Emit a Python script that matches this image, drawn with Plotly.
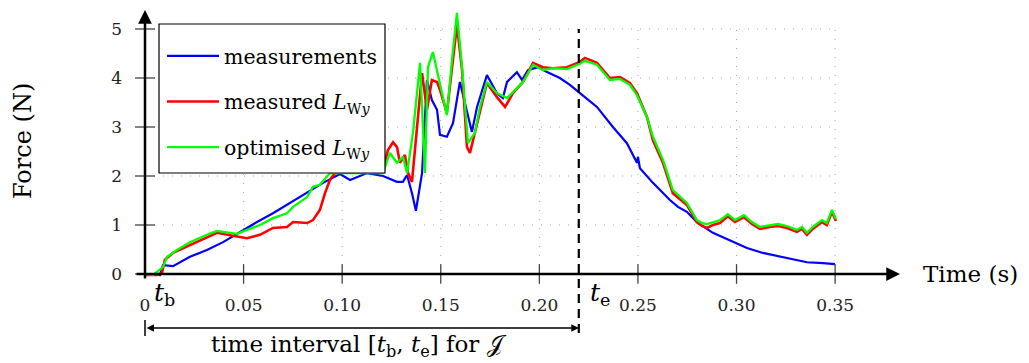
import plotly.graph_objects as go

# ---------------- data ----------------
meas_t = [0, 0.0076, 0.0091, 0.0142, 0.0228, 0.0314, 0.0396, 0.0482, 0.0568, 0.0649, 0.0735,
          0.0822, 0.0903, 0.0989, 0.1040, 0.1126, 0.1207, 0.1278, 0.1308, 0.1329, 0.1354,
          0.1374, 0.1405, 0.1430, 0.1455, 0.1481, 0.1496, 0.1531, 0.1562, 0.1597, 0.1633,
          0.1658, 0.1684, 0.1734, 0.1785, 0.1815, 0.1836, 0.1886, 0.1912, 0.1942, 0.1993,
          0.2039, 0.2104, 0.2155, 0.2206, 0.2292, 0.2373, 0.2444, 0.2495, 0.2500, 0.2510,
          0.2576, 0.2662, 0.2703, 0.2748, 0.2799, 0.2880, 0.2992, 0.3053, 0.3134, 0.3256,
          0.3357, 0.3438, 0.3499]
meas_f = [0, -0.02, 0.18, 0.16, 0.35, 0.49, 0.65, 0.86, 1.06, 1.24, 1.45,
          1.67, 1.86, 2.04, 1.92, 2.06, 2.00, 1.88, 1.88, 2.02, 1.65,
          1.29, 2.06, 3.96, 3.55, 3.35, 2.84, 2.80, 3.08, 3.92, 3.35,
          2.90, 3.41, 4.06, 3.69, 3.59, 3.92, 4.12, 3.96, 4.16, 4.22,
          4.12, 4.00, 3.86, 3.69, 3.41, 3.00, 2.67, 2.27, 2.39, 2.16,
          1.86, 1.51, 1.37, 1.27, 1.06, 0.84, 0.65, 0.53, 0.43, 0.33,
          0.24, 0.22, 0.20]

mlw_t = [0, 0.0061, 0.0086, 0.0101, 0.0142, 0.0228, 0.0314, 0.0365, 0.0446, 0.0517, 0.0583,
         0.0649, 0.0720, 0.0751, 0.0822, 0.0852, 0.0887, 0.0913, 0.0938, 0.0974, 0.1126,
         0.1207, 0.1232, 0.1258, 0.1278, 0.1293, 0.1318, 0.1334, 0.1354, 0.1379, 0.1405,
         0.1430, 0.1455, 0.1481, 0.1496, 0.1531, 0.1557, 0.1582, 0.1608, 0.1633, 0.1648,
         0.1673, 0.1699, 0.1734, 0.1785, 0.1826, 0.1866, 0.1917, 0.1968, 0.2018, 0.2069,
         0.2140, 0.2206, 0.2231, 0.2292, 0.2358, 0.2409, 0.2459, 0.2495, 0.2546, 0.2576,
         0.2627, 0.2677, 0.2748, 0.2799, 0.2825, 0.2850, 0.2880, 0.2916, 0.2956, 0.2992,
         0.3038, 0.3078, 0.3119, 0.3169, 0.3210, 0.3256, 0.3306, 0.3332, 0.3357, 0.3387,
         0.3433, 0.3458, 0.3484, 0.3504]
mlw_f = [-0.02, -0.02, 0.02, 0.29, 0.43, 0.59, 0.76, 0.84, 0.78, 0.73, 0.80,
         0.94, 0.96, 1.06, 1.04, 1.10, 1.31, 1.65, 1.92, 2.12, 2.12,
         2.12, 2.53, 2.69, 2.59, 2.27, 2.43, 2.06, 1.88, 3.00, 4.10,
         3.35, 3.96, 3.92, 3.76, 3.29, 4.22, 5.08, 4.16, 2.59, 2.47,
         2.88, 3.35, 3.90, 3.61, 3.41, 3.69, 3.92, 4.31, 4.22, 4.20,
         4.22, 4.33, 4.41, 4.31, 4.00, 4.02, 3.90, 3.69, 3.20, 2.73,
         2.27, 1.65, 1.41, 1.06, 0.98, 0.94, 1.00, 1.04, 1.18, 1.06,
         1.16, 1.02, 0.92, 0.96, 0.98, 0.94, 0.86, 0.92, 0.80, 0.92,
         1.06, 1.00, 1.27, 1.08]

olw_t = [0, 0.0041, 0.0091, 0.0112, 0.0162, 0.0228, 0.0314, 0.0365, 0.0431, 0.0467, 0.0517,
         0.0583, 0.0649, 0.0720, 0.0751, 0.0822, 0.0852, 0.0887, 0.0938, 0.1207, 0.1242,
         0.1278, 0.1308, 0.1329, 0.1359, 0.1395, 0.1420, 0.1435, 0.1460, 0.1496, 0.1531,
         0.1557, 0.1582, 0.1608, 0.1638, 0.1673, 0.1699, 0.1734, 0.1785, 0.1836, 0.1866,
         0.1917, 0.1968, 0.2018, 0.2069, 0.2140, 0.2206, 0.2231, 0.2292, 0.2358, 0.2409,
         0.2459, 0.2495, 0.2546, 0.2576, 0.2627, 0.2677, 0.2748, 0.2799, 0.2825, 0.2850,
         0.2880, 0.2916, 0.2956, 0.2992, 0.3038, 0.3078, 0.3119, 0.3169, 0.3210, 0.3256,
         0.3306, 0.3332, 0.3357, 0.3387, 0.3433, 0.3458, 0.3484, 0.3504]
olw_f = [0, -0.02, 0.14, 0.35, 0.49, 0.65, 0.80, 0.88, 0.84, 0.82, 0.90,
         1.00, 1.14, 1.24, 1.37, 1.57, 1.78, 1.82, 2.06, 2.06, 2.47,
         2.27, 2.39, 2.06, 2.88, 4.31, 2.06, 4.22, 4.53, 3.90, 3.24,
         4.37, 5.33, 4.22, 2.67, 2.88, 3.41, 3.92, 3.69, 3.59, 3.71,
         3.92, 4.27, 4.16, 4.20, 4.18, 4.29, 4.35, 4.27, 3.96, 3.98,
         3.86, 3.65, 3.20, 2.80, 2.33, 1.71, 1.45, 1.10, 1.04, 1.02,
         1.06, 1.10, 1.22, 1.10, 1.20, 1.06, 0.96, 1.00, 1.02, 0.98,
         0.90, 0.96, 0.84, 0.96, 1.10, 1.04, 1.31, 1.12]

x_ticks = [0, 0.05, 0.10, 0.15, 0.20, 0.25, 0.30, 0.35]
x_tick_text = ["0", "0.05", "0.10", "0.15", "0.20", "0.25", "0.30", "0.35"]
y_ticks = [0, 1, 2, 3, 4, 5]
y_tick_text = ["0", "1", "2", "3", "4", "5"]
t_end = 0.22

# ---------------- style ----------------
FONT = "DejaVu Serif"
X_RANGE = [-0.00507, 0.3829]
Y_RANGE = [-0.2653, 5.3878]
# the page body adds an 8 px offset; window pixel positions below include it


def paper_y(py):
    return (287 - py) / 277.0


def paper_x(px):
    return (px - 135) / 765.0


fig = go.Figure()
fig.add_trace(go.Scatter(x=meas_t, y=meas_f, mode="lines", name="measurements",
                         line=dict(color="#0000ff", width=2.2), legendgroup="a"))
fig.add_trace(go.Scatter(x=mlw_t, y=mlw_f, mode="lines",
                         name="measured <i>L</i><sub>W<i>y</i></sub>",
                         line=dict(color="#ff0000", width=2.6), legendgroup="b"))
fig.add_trace(go.Scatter(x=olw_t, y=olw_f, mode="lines",
                         name="optimised <i>L</i><sub>W<i>y</i></sub>",
                         line=dict(color="#00ff00", width=2.3), legendgroup="c"))

shapes = []
# grid
for v in x_ticks[1:]:
    shapes.append(dict(type="line", xref="x", yref="y", x0=v, x1=v, y0=0, y1=y_ticks[-1],
                       line=dict(color="#a8a8a8", width=1, dash="1px,8px"), layer="below"))
for v in y_ticks[1:]:
    shapes.append(dict(type="line", xref="x", yref="y", x0=0, x1=x_ticks[-1], y0=v, y1=v,
                       line=dict(color="#a8a8a8", width=1, dash="1px,8px"), layer="below"))
# tick marks crossing the axes
for v in x_ticks[1:]:
    shapes.append(dict(type="line", xref="x", yref="y", x0=v, x1=v, y0=-0.2, y1=0.2,
                       line=dict(color="#444444", width=1.3)))
for v in y_ticks:
    shapes.append(dict(type="line", xref="x", yref="y", x0=-0.00507, x1=0.00507, y0=v, y1=v,
                       line=dict(color="#444444", width=1.3)))
# dashed end-of-interval line
shapes.append(dict(type="line", xref="x", yref="paper", x0=t_end, x1=t_end,
                   y0=paper_y(333), y1=paper_y(29),
                   line=dict(color="black", width=2.2, dash="9px,6px")))
# left bar of the interval arrow
shapes.append(dict(type="line", xref="x", yref="paper", x0=0, x1=0,
                   y0=paper_y(320), y1=paper_y(336),
                   line=dict(color="black", width=1.5)))
# legend frame
shapes.append(dict(type="rect", xref="paper", yref="paper",
                   x0=paper_x(159), x1=paper_x(385), y0=paper_y(173), y1=paper_y(24),
                   fillcolor="white", line=dict(color="black", width=1.2), layer="above"))

TXT = dict(family=FONT, color="black")
annotations = [
    # x axis with arrow
    dict(x=X_RANGE[1], y=0, ax=X_RANGE[0], ay=0, xref="x", yref="y", axref="x", ayref="y",
         text="", showarrow=True, arrowhead=2, arrowsize=1.1, arrowwidth=2.5, arrowcolor="black"),
    # y axis with arrow
    dict(x=0, y=Y_RANGE[1], ax=0, ay=-0.12, xref="x", yref="y", axref="x", ayref="y",
         text="", showarrow=True, arrowhead=2, arrowsize=1.1, arrowwidth=2.5, arrowcolor="black"),
    # interval double arrow
    dict(x=t_end, y=paper_y(328), ax=0, ay=0, xref="x", yref="paper",
         axref="x", ayref="pixel", text="", showarrow=True, arrowhead=2, startarrowhead=2,
         arrowside="end+start", arrowsize=1, arrowwidth=1.5, arrowcolor="black"),
    dict(x=paper_x(23), y=paper_y(141), xref="paper", yref="paper", text="Force (N)",
         textangle=-90, xanchor="center", yanchor="middle",
         showarrow=False, font=dict(size=24, **TXT)),
    dict(x=paper_x(971), y=0, xref="paper", yref="y", text="Time (s)",
         xanchor="center", yanchor="middle",
         showarrow=False, font=dict(size=23, **TXT)),
    dict(x=0.0101, y=paper_y(294), xref="x", yref="paper", text="<i>t</i><sub>b</sub>",
         xanchor="center", yanchor="middle",
         showarrow=False, font=dict(size=25, **TXT)),
    dict(x=0.2307, y=paper_y(294), xref="x", yref="paper", text="<i>t</i><sub>e</sub>",
         xanchor="center", yanchor="middle",
         showarrow=False, font=dict(size=25, **TXT)),
    dict(x=0.1085, y=paper_y(346), xref="x", yref="paper",
         text="time interval [<i>t</i><sub>b</sub>, <i>t</i><sub>e</sub>] for 𝒥",
         xanchor="center", yanchor="middle",
         showarrow=False, font=dict(size=23, **TXT)),
]

fig.update_layout(
    width=1021, height=355,
    margin=dict(l=127, r=129, t=2, b=76, autoexpand=False),
    plot_bgcolor="white", paper_bgcolor="white",
    font=dict(family=FONT, color="black"),
    shapes=shapes, annotations=annotations,
    xaxis=dict(range=X_RANGE, showgrid=False, zeroline=False, showline=False,
               tickvals=x_ticks, ticktext=x_tick_text, ticks="", ticklabelstandoff=6,
               tickfont=dict(family=FONT, size=17, color="#222222")),
    yaxis=dict(range=Y_RANGE, showgrid=False, zeroline=False, showline=False,
               tickvals=y_ticks, ticktext=y_tick_text, ticks="", ticklabelstandoff=12,
               tickfont=dict(family=FONT, size=17, color="#222222")),
    legend=dict(x=paper_x(162), y=paper_y(36), xanchor="left", yanchor="top",
                bgcolor="rgba(0,0,0,0)", borderwidth=0,
                font=dict(family=FONT, size=20.5, color="black"),
                tracegroupgap=16, itemwidth=52),
    showlegend=True,
)

fig.write_html("out.html")
